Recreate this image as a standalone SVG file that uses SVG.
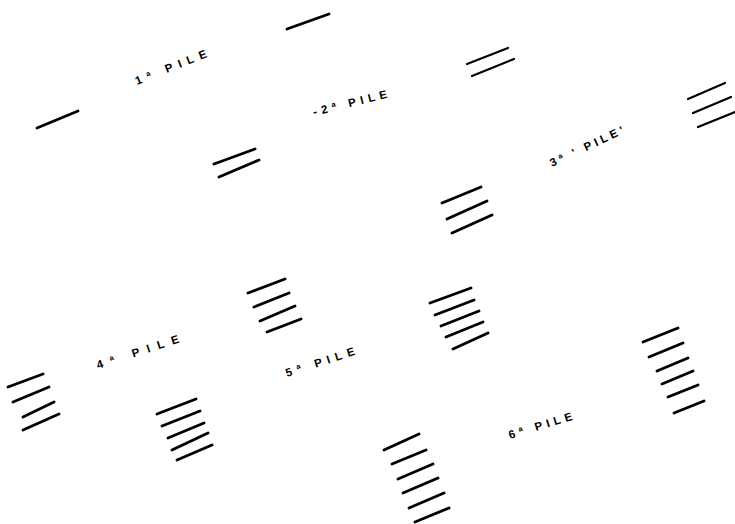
<svg xmlns="http://www.w3.org/2000/svg" width="735" height="524" viewBox="0 0 735 524">
<style>
.s{stroke:#000;stroke-linecap:round;fill:none;stroke-width:2.9}
.t{stroke:#000;stroke-linecap:round;fill:none;stroke-width:2.2}
.lb{font-family:"Liberation Sans",Arial,sans-serif;font-size:11.5px;font-weight:bold;fill:#000}
</style>
<rect width="735" height="524" fill="#fff"/>
<g id="labels">
<text class="lb" transform="translate(137,85) rotate(-21.7)" textLength="76" lengthAdjust="spacing">1ª  PILE</text>
<text class="lb" transform="translate(314,116) rotate(-14)" textLength="76" lengthAdjust="spacing">-2ª PILE</text>
<text class="lb" transform="translate(552,167) rotate(-25)" textLength="80" lengthAdjust="spacing">3ª ' PILE'</text>
<text class="lb" transform="translate(98,369) rotate(-18)" textLength="86" lengthAdjust="spacing">4ª  PILE</text>
<text class="lb" transform="translate(287,377) rotate(-18)" textLength="72" lengthAdjust="spacing">5ª PILE</text>
<text class="lb" transform="translate(510,439) rotate(-17)" textLength="66" lengthAdjust="spacing">6ª PILE</text>
</g>
<g id="marks">
<g id="m1a"><line class="s" x1="287" y1="29" x2="329" y2="14"/></g>
<g id="m1b"><line class="s" x1="37" y1="128" x2="78" y2="111"/></g>
<g id="m2a">
<line class="s" x1="214" y1="164" x2="255" y2="149"/>
<line class="s" x1="219" y1="177" x2="259" y2="160"/>
</g>
<g id="m2b">
<line class="t" x1="467" y1="64" x2="508" y2="48"/>
<line class="t" x1="472" y1="76" x2="514" y2="59"/>
</g>
<g id="m3a">
<line class="t" x1="688" y1="99" x2="725" y2="83"/>
<line class="t" x1="693" y1="113" x2="731" y2="97"/>
<line class="t" x1="698" y1="127" x2="735" y2="112"/>
</g>
<g id="m3b">
<line class="s" x1="442" y1="203" x2="481" y2="187"/>
<line class="s" x1="447" y1="219" x2="487" y2="201"/>
<line class="s" x1="452" y1="233" x2="492" y2="215"/>
</g>
<g id="m4a">
<line class="s" x1="248" y1="293" x2="285" y2="279"/>
<line class="s" x1="254" y1="307" x2="289" y2="293"/>
<line class="s" x1="260" y1="321" x2="295" y2="306"/>
<line class="s" x1="267" y1="332" x2="301" y2="319"/>
</g>
<g id="m4b">
<line class="s" x1="8" y1="387" x2="43" y2="374"/>
<line class="s" x1="13" y1="402" x2="49" y2="387"/>
<line class="s" x1="23" y1="417" x2="54" y2="402"/>
<line class="s" x1="23" y1="430" x2="59" y2="414"/>
</g>
<g id="m5a">
<line class="s" x1="157" y1="414" x2="196" y2="399"/>
<line class="s" x1="162" y1="426" x2="200" y2="411"/>
<line class="s" x1="168" y1="438" x2="204" y2="423"/>
<line class="s" x1="172" y1="450" x2="208" y2="433"/>
<line class="s" x1="177" y1="460" x2="212" y2="445"/>
</g>
<g id="m5b">
<line class="s" x1="430" y1="303" x2="471" y2="288"/>
<line class="s" x1="435" y1="315" x2="474" y2="300"/>
<line class="s" x1="441" y1="326" x2="479" y2="311"/>
<line class="s" x1="446" y1="337" x2="483" y2="322"/>
<line class="s" x1="453" y1="349" x2="488" y2="333"/>
</g>
<g id="m6a">
<line class="s" x1="643" y1="342" x2="678" y2="328"/>
<line class="s" x1="649" y1="357" x2="683" y2="343"/>
<line class="s" x1="657" y1="371" x2="688" y2="358"/>
<line class="s" x1="662" y1="384" x2="693" y2="371"/>
<line class="s" x1="668" y1="397" x2="698" y2="385"/>
<line class="s" x1="674" y1="413" x2="704" y2="401"/>
</g>
<g id="m6b">
<line class="s" x1="384" y1="450" x2="419" y2="434"/>
<line class="s" x1="392" y1="464" x2="426" y2="450"/>
<line class="s" x1="398" y1="479" x2="433" y2="464"/>
<line class="s" x1="403" y1="493" x2="438" y2="478"/>
<line class="s" x1="409" y1="508" x2="444" y2="493"/>
<line class="s" x1="415" y1="522" x2="449" y2="508"/>
</g>
</g>
</svg>
